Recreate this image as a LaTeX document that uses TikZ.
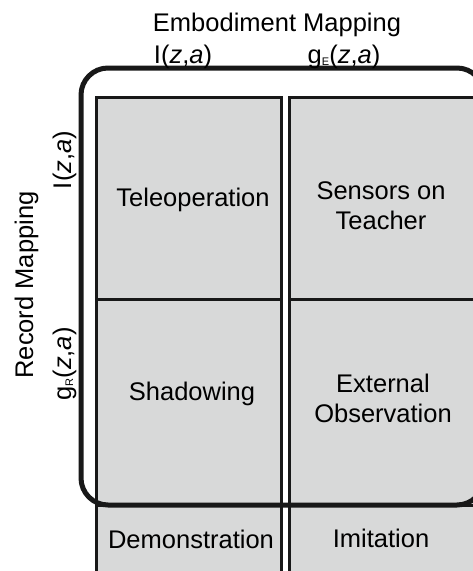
\documentclass[tikz,border=0pt]{standalone}
\usepackage{fontspec}
\setmainfont{Liberation Sans}
\definecolor{cellgray}{RGB}{216,217,217}
\definecolor{linedark}{RGB}{24,24,24}
\newcommand{\lowsub}[1]{\raisebox{-2pt}{\fontsize{11}{11}\selectfont #1}}
\begin{document}
\begin{tikzpicture}[x=1pt,y=-1pt,
  cell/.style={draw=linedark, line width=3pt, fill=cellgray, minimum width=185pt, inner sep=0pt},
  outerbox/.style={draw=linedark, line width=5pt, rounded corners=27pt, minimum width=403pt, minimum height=437pt, inner sep=0pt},
  txt/.style={font=\fontsize{25.5}{30}\selectfont, inner sep=0pt, text=black},
  btxt/.style={txt, anchor=base},
  mtxt/.style={txt, align=center}]
\useasboundingbox (0,0) rectangle (473,571);
\clip (0,0) rectangle (473,571);
% cells
\node[cell, minimum height=202pt] (tele) at (188.5,198) {};
\node[cell, minimum height=202pt] (sens) at (381.5,198) {};
\node[cell, minimum height=206pt] (shad) at (188.5,402) {};
\node[cell, minimum height=206pt] (ext)  at (381.5,402) {};
\node[cell, minimum height=90pt]  (demo) at (188.5,550) {};
\node[cell, minimum height=90pt]  (imit) at (381.5,550) {};
% outer rounded box
\node[outerbox] (emb) at (282.5,286.5) {};
% cell texts
\node[btxt] (teleT) at (193,206) {Teleoperation};
\node[mtxt] (sensT) at (381,206) {Sensors on\\Teacher};
\node[btxt] (shadT) at (192,400) {Shadowing};
\node[mtxt] (extT)  at (383,398) {External\\Observation};
\node[btxt] (demoT) at (191,548) {Demonstration};
\node[btxt] (imitT) at (381,547) {Imitation};
% top labels
\node[btxt] (embL) at (277,31) {Embodiment Mapping};
\node[btxt] (embI) at (183,63) {I(\textit{z},\textit{a})};
\node[btxt] (embG) at (344,63) {g\lowsub{E}(\textit{z},\textit{a})};
% left labels
\node[btxt, rotate=90] (recL) at (33,285) {Record Mapping};
\node[btxt, rotate=90] (recI) at (71,160) {I(\textit{z},\textit{a})};
\node[btxt, rotate=90] (recG) at (71,364) {g\lowsub{R}(\textit{z},\textit{a})};
\end{tikzpicture}
\end{document}
